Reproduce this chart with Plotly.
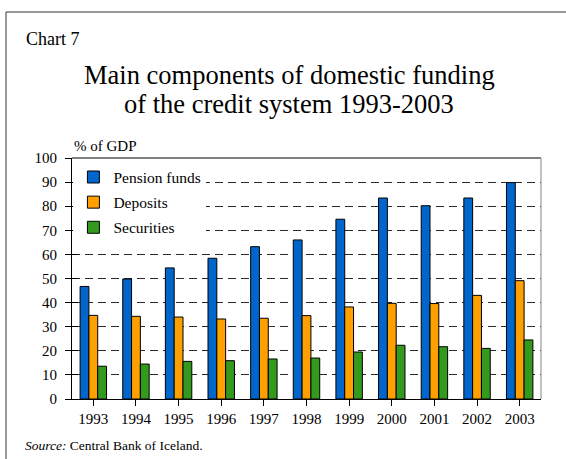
import plotly.graph_objects as go

years = ["1993", "1994", "1995", "1996", "1997", "1998", "1999", "2000", "2001", "2002", "2003"]
pension_funds = [46.7, 49.8, 54.4, 58.4, 63.2, 66.0, 74.6, 83.4, 80.2, 83.4, 89.8]
deposits = [34.7, 34.3, 34.0, 33.2, 33.5, 34.6, 38.2, 39.7, 39.6, 43.0, 49.1]
securities = [13.6, 14.5, 15.6, 15.9, 16.6, 17.0, 19.5, 22.3, 21.7, 21.0, 24.5]
y_ticks = [0, 10, 20, 30, 40, 50, 60, 70, 80, 90, 100]

series_names = ["Pension funds", "Deposits", "Securities"]
series_colors = ["#0066CC", "#FF9F00", "#349A1E"]

W, H = 566, 459
ML, MR, MT, MB = 72, 25, 158, 60
PW, PH = W - ML - MR, H - MT - MB

def px_x(p):
    return (p - ML) / PW

def px_y(p):
    return (H - MB - p) / PH

FONT = "Liberation Serif"

fig = go.Figure()
for name, vals, col in zip(series_names, [pension_funds, deposits, securities], series_colors):
    fig.add_trace(go.Bar(
        x=years, y=vals, name=name, legendgroup=name,
        marker=dict(color=col, line=dict(color="#000000", width=1)),
    ))

fig.update_layout(
    width=W, height=H,
    margin=dict(l=ML, r=MR, t=MT, b=MB, pad=0),
    paper_bgcolor="white", plot_bgcolor="white",
    barmode="group", bargap=0.38, bargroupgap=0,
    font=dict(family=FONT, size=15, color="#000000"),
    showlegend=True,
    legend=dict(
        x=0.003, y=0.99, xanchor="left", yanchor="top",
        bgcolor="white", borderwidth=0,
        font=dict(family=FONT, size=15.5, color="#000000"),
        traceorder="grouped", tracegroupgap=2,
        itemwidth=30,
    ),
    xaxis=dict(
        type="category", range=[-0.5, 10.5],
        showline=True, linecolor="#000000", linewidth=1,
        ticks="outside", ticklen=6, tickcolor="#000000",
        tickfont=dict(family=FONT, size=15),
        showgrid=False,
    ),
    yaxis=dict(
        range=[0, 100], tickvals=y_ticks,
        showline=True, linecolor="#000000", linewidth=1,
        ticks="outside", ticklen=6, tickcolor="#000000",
        tickfont=dict(family=FONT, size=15),
        ticklabelstandoff=5,
        showgrid=True, gridcolor="#2a2a2a", gridwidth=1, griddash="8px,5px",
        zeroline=False,
    ),
    yaxis2=dict(
        range=[0, 100], tickvals=y_ticks, overlaying="y", side="left",
        ticks="inside", ticklen=6, tickcolor="#000000",
        showticklabels=False, showgrid=False, zeroline=False, showline=False,
    ),
)

# invisible trace to activate the overlay axis (inner tick marks)
fig.add_trace(go.Scatter(x=[years[0]], y=[0], yaxis="y2", mode="markers",
                         marker=dict(opacity=0), showlegend=False, hoverinfo="skip"))

shapes = [
    dict(type="line", xref="paper", yref="paper", x0=0, x1=1, y0=1, y1=1,
         line=dict(color="#000000", width=1)),
    dict(type="line", xref="paper", yref="paper", x0=1, x1=1, y0=0, y1=1,
         line=dict(color="#888888", width=1)),
    dict(type="line", xref="paper", yref="paper", x0=px_x(6), x1=px_x(W + 5), y0=px_y(12), y1=px_y(12),
         line=dict(color="#333333", width=1)),
    dict(type="line", xref="paper", yref="paper", x0=px_x(6), x1=px_x(6), y0=px_y(12), y1=px_y(H + 5),
         line=dict(color="#333333", width=1)),
]
fig.update_layout(shapes=shapes)

annotations = [
    dict(text="Chart 7", x=px_x(24), y=px_y(39), xanchor="left", yanchor="middle",
         font=dict(family=FONT, size=18)),
    dict(text="Main components of domestic funding", x=px_x(289), y=px_y(75),
         xanchor="center", yanchor="middle", font=dict(family=FONT, size=26.5)),
    dict(text="of the credit system 1993-2003", x=px_x(289), y=px_y(104),
         xanchor="center", yanchor="middle", font=dict(family=FONT, size=26.5)),
    dict(text="% of GDP", x=px_x(72), y=px_y(146), xanchor="left", yanchor="middle",
         font=dict(family=FONT, size=15)),
    dict(text="<i>Source:</i> Central Bank of Iceland.", x=px_x(23), y=px_y(445),
         xanchor="left", yanchor="middle", font=dict(family=FONT, size=13.5)),
]
for a in annotations:
    a.update(xref="paper", yref="paper", showarrow=False)
fig.update_layout(annotations=annotations)

fig.write_html("out.html")
